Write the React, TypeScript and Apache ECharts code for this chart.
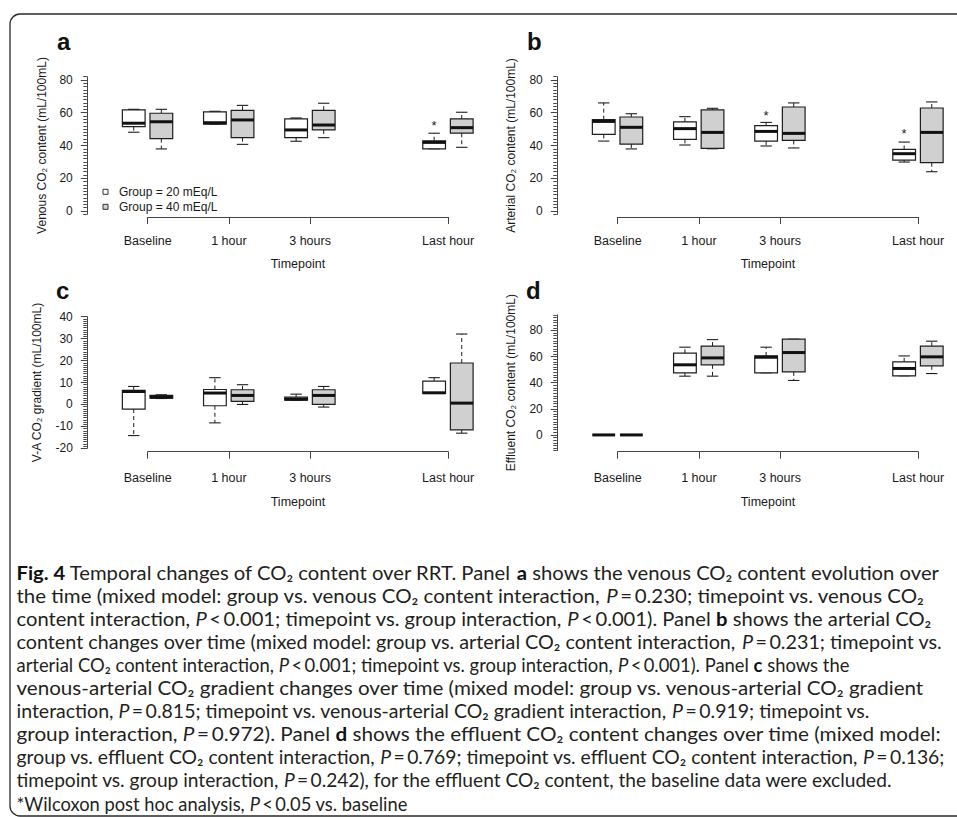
import React, { useEffect, useRef } from 'react';
import * as echarts from 'echarts';

// ---------------- data ----------------
const timepoints = ['Baseline', '1 hour', '3 hours', 'Last hour'];
const timepointPos = [1, 2, 3, 4.7];

const NAME20 = 'Group = 20 mEq/L';
const NAME40 = 'Group = 40 mEq/L';

// each row: [min, q1, median, q3, max] per timepoint
const venous20 = [[48.1, 51.5, 53.6, 61.7, 62.1], [53.1, 53.1, 53.9, 60.5, 60.9], [42.6, 44.8, 49.5, 56.2, 56.8], [38.0, 38.0, 41.9, 42.9, 47.5]];
const venous40 = [[37.9, 44.2, 54.5, 59.7, 62.1], [40.7, 44.8, 55.6, 61.5, 64.5], [44.8, 49.5, 52.5, 61.5, 65.8], [38.9, 47.5, 50.9, 56.2, 60.3]];
const arterial20 = [[42.7, 46.8, 54.7, 55.8, 66.0], [40.3, 43.7, 50.3, 54.4, 57.6], [39.7, 42.7, 48.6, 52.1, 54.1], [29.9, 31.1, 35.0, 37.6, 42.1]];
const arterial40 = [[37.9, 40.9, 51.1, 57.4, 59.4], [38.0, 38.2, 48.0, 61.7, 62.7], [38.5, 43.1, 47.4, 63.5, 66.0], [24.0, 29.5, 48.0, 62.9, 66.6]];
const gradient20 = [[-14.2, -2.1, 5.9, 6.4, 8.2], [-8.4, -0.6, 5.2, 6.8, 12.2], [2.0, 2.0, 2.4, 3.3, 4.7], [5.0, 5.0, 5.3, 10.6, 12.2]];
const gradient40 = [[2.7, 2.9, 3.3, 4.1, 4.4], [0.0, 1.4, 4.1, 6.7, 9.0], [-1.2, 0.0, 4.1, 6.7, 8.2], [-13.1, -11.6, 0.6, 18.9, 32.1]];
const effluent20 = [[0, 0, 0, 0, 0], [45.0, 47.6, 53.7, 62.6, 67.2], [47.6, 47.6, 59.5, 60.5, 67.2], [45.3, 45.3, 50.9, 56.0, 60.5]];
const effluent40 = [[0, 0, 0, 0, 0], [45.0, 53.7, 59.0, 68.0, 73.0], [41.7, 48.3, 63.1, 73.3, 73.3], [47.0, 52.9, 59.8, 68.0, 71.8]];

// significance stars (20 mEq/L group): [timepoint position, value]
const starsVenous = [[4.7, 54.0]];
const starsArterial = [[3, 60.4], [4.7, 49.2]];
const starsGradient: number[][] = [];
const starsEffluent: number[][] = [];

const ticksContent = [0, 20, 40, 60, 80];
const ticksGradient = [-20, -10, 0, 10, 20, 30, 40];

const T = '\u2009';
const captionLines = [
  '{b|Fig. 4} Temporal changes of CO₂ content over RRT. Panel {b|a} shows the venous CO₂ content evolution over',
  `the time (mixed model: group vs. venous CO₂ content interaction, {i|P}${T}=${T}0.230; timepoint vs. venous CO₂`,
  `content interaction, {i|P}${T}<${T}0.001; timepoint vs. group interaction, {i|P}${T}<${T}0.001). Panel {b|b} shows the arterial CO₂`,
  `content changes over time (mixed model: group vs. arterial CO₂ content interaction, {i|P}${T}=${T}0.231; timepoint vs.`,
  `arterial CO₂ content interaction, {i|P}${T}<${T}0.001; timepoint vs. group interaction, {i|P}${T}<${T}0.001). Panel {b|c} shows the`,
  'venous-arterial CO₂ gradient changes over time (mixed model: group vs. venous-arterial CO₂ gradient',
  `interaction, {i|P}${T}=${T}0.815; timepoint vs. venous-arterial CO₂ gradient interaction, {i|P}${T}=${T}0.919; timepoint vs.`,
  `group interaction, {i|P}${T}=${T}0.972). Panel {b|d} shows the effluent CO₂ content changes over time (mixed model:`,
  `group vs. effluent CO₂ content interaction, {i|P}${T}=${T}0.769; timepoint vs. effluent CO₂ content interaction, {i|P}${T}=${T}0.136;`,
  `timepoint vs. group interaction, {i|P}${T}=${T}0.242), for the effluent CO₂ content, the baseline data were excluded.`,
  `*Wilcoxon post hoc analysis, {i|P}${T}<${T}0.05 vs. baseline`,
];

// ---------------- styling / layout ----------------
const FONT = '"Liberation Sans", Arial, Helvetica, sans-serif';
const CAP_FONT = 'Lato, "Open Sans", sans-serif';
const INK = '#1a1a1a';
const AXIS = '#444';
const GREY = '#d0d0d0';
const BOX_W = 0.28;
const OFF20 = -0.172;
const OFF40 = 0.168;
const CAP_X = 16.5;
const CAP_SIZE = 19.5;
// right edge of each caption line in the reference (layout only)
const captionRight = [940, 925, 931, 942, 849, 925, 870, 941, 944, 893, 408];

function steps(a: number, b: number, s: number) {
  const out: number[] = [];
  for (let v = a; v <= b + 1e-9; v += s) out.push(Math.round(v * 1000) / 1000);
  return out;
}

const panels = [
  {
    letter: 'a', yName: 'Venous CO₂ content (mL/100mL)', g20: venous20, g40: venous40, stars: starsVenous,
    yMin: -2, yMax: 82, major: ticksContent, minorStep: 2,
    grid: { left: 86.8, top: 76.7, width: 401.9, height: 137.6 }, xMax: 5.2,
    axisGrid: { left: 147.7, top: 200, width: 300.4, height: 17 },
    xLabelMargin: 17.5, xNameGap: 40.5, yNameGap: 39, letterXY: [57, 41.7],
  },
  {
    letter: 'b', yName: 'Arterial CO₂ content (mL/100mL)', g20: arterial20, g40: arterial40, stars: starsArterial,
    yMin: -2, yMax: 82, major: ticksContent, minorStep: 2,
    grid: { left: 556.8, top: 76.7, width: 393.8, height: 137.6 }, xMax: 5.1,
    axisGrid: { left: 617.7, top: 200, width: 300.4, height: 17 },
    xLabelMargin: 17.5, xNameGap: 40.5, yNameGap: 40, letterXY: [527, 41.7],
  },
  {
    letter: 'c', yName: 'V-A CO₂ gradient (mL/100mL)', g20: gradient20, g40: gradient40, stars: starsGradient,
    yMin: -20, yMax: 40, major: ticksGradient, minorStep: 1,
    grid: { left: 86.8, top: 316.7, width: 401.9, height: 131.6 }, xMax: 5.2,
    axisGrid: { left: 147.7, top: 430, width: 300.4, height: 21.7 },
    xLabelMargin: 20, xNameGap: 43.5, yNameGap: 44, letterXY: [56, 290.7],
  },
  {
    letter: 'd', yName: 'Effluent CO₂ content (mL/100mL)', g20: effluent20, g40: effluent40, stars: starsEffluent,
    yMin: -12, yMax: 92, major: ticksContent, minorStep: 2,
    grid: { left: 556.8, top: 314.8, width: 393.8, height: 135.8 }, xMax: 5.1,
    axisGrid: { left: 617.7, top: 430, width: 300.4, height: 21.7 },
    xLabelMargin: 20, xNameGap: 43.5, yNameGap: 40, letterXY: [526, 290.7],
  },
];

function boxRender(offset: number, fill: string) {
  return (params: any, api: any) => {
    const x = api.value(0) + offset;
    const mn = api.value(1), q1 = api.value(2), md = api.value(3), q3 = api.value(4), mx = api.value(5);
    const halfW = api.size([BOX_W, 0])[0] / 2;
    const capW = halfW / 2;
    const pMin = api.coord([x, mn]);
    const cx = pMin[0];
    const yMin = pMin[1];
    const yQ1 = api.coord([x, q1])[1];
    const yMed = api.coord([x, md])[1];
    const yQ3 = api.coord([x, q3])[1];
    const yMax = api.coord([x, mx])[1];
    const stroke = '#1e1e1e';
    return {
      type: 'group',
      children: [
        { type: 'line', shape: { x1: cx, y1: yQ3, x2: cx, y2: yMax }, style: { stroke, lineWidth: 1, lineDash: [4, 3] } },
        { type: 'line', shape: { x1: cx, y1: yQ1, x2: cx, y2: yMin }, style: { stroke, lineWidth: 1, lineDash: [4, 3] } },
        { type: 'line', shape: { x1: cx - capW, y1: yMax, x2: cx + capW, y2: yMax }, style: { stroke, lineWidth: 1.1 } },
        { type: 'line', shape: { x1: cx - capW, y1: yMin, x2: cx + capW, y2: yMin }, style: { stroke, lineWidth: 1.1 } },
        { type: 'rect', shape: { x: cx - halfW, y: yQ3, width: 2 * halfW, height: yQ1 - yQ3 }, style: { fill, stroke, lineWidth: 1.2 } },
        { type: 'line', shape: { x1: cx - halfW, y1: yMed, x2: cx + halfW, y2: yMed }, style: { stroke: '#111', lineWidth: 3 } },
      ],
    };
  };
}

function starRender(offset: number) {
  return (params: any, api: any) => {
    const p = api.coord([api.value(0) + offset, api.value(1)]);
    return {
      type: 'text', x: p[0], y: p[1] + 3,
      style: {
        text: '*', fontSize: 13, fontFamily: FONT, fill: INK,
        align: 'center', verticalAlign: 'middle', textAlign: 'center', textVerticalAlign: 'middle',
      },
    };
  };
}

function captionStyle(line: string) {
  return {
    text: line, fontSize: CAP_SIZE, fontFamily: CAP_FONT, fill: '#231f20',
    verticalAlign: 'middle', textVerticalAlign: 'middle',
    rich: {
      b: { fontSize: CAP_SIZE, fontFamily: CAP_FONT, fontWeight: 'bold', fill: '#111' },
      i: { fontSize: CAP_SIZE, fontFamily: CAP_FONT, fontStyle: 'italic', fill: '#231f20' },
    },
  };
}

function measure(line: string) {
  try {
    const t = new (echarts.graphic as any).Text({ style: captionStyle(line) });
    const w = t.getBoundingRect().width;
    return w > 0 ? w : 0;
  } catch (e) {
    return 0;
  }
}

function buildOption() {
  const grid: any[] = [];
  const xAxis: any[] = [];
  const yAxis: any[] = [];
  const series: any[] = [];
  const graphic: any[] = [];
  const n = panels.length;

  panels.forEach((p, i) => {
    grid[i] = { ...p.grid, containLabel: false };
    grid[n + i] = { ...p.axisGrid, containLabel: false };

    xAxis[i] = { gridIndex: i, type: 'value', min: 0.25, max: p.xMax, show: false };
    xAxis[n + i] = {
      gridIndex: n + i, type: 'value', min: timepointPos[0], max: timepointPos[timepointPos.length - 1],
      position: 'bottom',
      axisLine: { show: true, lineStyle: { color: AXIS, width: 1 } },
      axisTick: { show: true, customValues: timepointPos, length: 7, lineStyle: { color: AXIS, width: 1 } },
      axisLabel: {
        customValues: timepointPos, margin: p.xLabelMargin, fontSize: 12.5, fontFamily: FONT, color: INK,
        formatter: (v: number) => {
          const k = timepointPos.findIndex((t) => Math.abs(t - v) < 1e-6);
          return k >= 0 ? timepoints[k] : '';
        },
      },
      splitLine: { show: false },
      name: 'Timepoint', nameLocation: 'middle', nameGap: p.xNameGap,
      nameTextStyle: { fontSize: 12.5, fontFamily: FONT, color: INK },
    };

    yAxis[i] = {
      gridIndex: i, type: 'value', min: p.yMin, max: p.yMax, position: 'left',
      axisLine: { show: true, lineStyle: { color: AXIS, width: 1 } },
      axisTick: { show: true, customValues: p.major, length: 6, lineStyle: { color: AXIS, width: 1 } },
      axisLabel: { customValues: p.major, margin: 14, fontSize: 12, fontFamily: FONT, color: INK },
      splitLine: { show: false },
      name: p.yName, nameLocation: 'middle', nameRotate: 90, nameGap: p.yNameGap,
      nameTextStyle: { fontSize: 12, fontFamily: FONT, color: INK },
    };
    yAxis[n + i] = {
      gridIndex: i, type: 'value', min: p.yMin, max: p.yMax, position: 'left',
      axisLine: { show: false },
      axisTick: { show: true, customValues: steps(p.yMin, p.yMax, p.minorStep), length: 3.5, lineStyle: { color: AXIS, width: 1 } },
      axisLabel: { show: false },
      splitLine: { show: false },
    };
    yAxis[2 * n + i] = { gridIndex: n + i, type: 'value', show: false, min: 0, max: 1 };

    const rows20 = timepointPos.map((t, k) => [t, ...p.g20[k]]);
    const rows40 = timepointPos.map((t, k) => [t, ...p.g40[k]]);
    series.push({
      type: 'custom', name: NAME20, xAxisIndex: i, yAxisIndex: i, data: rows20,
      itemStyle: { color: '#ffffff', borderColor: '#333' },
      renderItem: boxRender(OFF20, '#ffffff'), silent: true,
    });
    series.push({
      type: 'custom', name: NAME40, xAxisIndex: i, yAxisIndex: i, data: rows40,
      itemStyle: { color: GREY, borderColor: '#333' },
      renderItem: boxRender(OFF40, GREY), silent: true,
    });
    if (p.stars.length) {
      series.push({
        type: 'custom', name: 'stars-' + p.letter, xAxisIndex: i, yAxisIndex: i, data: p.stars,
        renderItem: starRender(OFF20), silent: true,
      });
    }

    graphic.push({
      type: 'text', x: p.letterXY[0], y: p.letterXY[1], silent: true,
      style: { text: p.letter, fontSize: 24, fontWeight: 'bold', fontFamily: FONT, fill: '#111', verticalAlign: 'middle', textVerticalAlign: 'middle' },
    });
  });

  graphic.push({
    type: 'rect', silent: true,
    shape: { x: 10, y: 14, width: 1000, height: 802, r: 10 },
    style: { fill: 'none', stroke: '#2a2a2a', lineWidth: 1.3 },
  });

  captionLines.forEach((line, k) => {
    const w = measure(line);
    let s = 1;
    if (w > 0) {
      s = (captionRight[k] - CAP_X) / w;
      s = Math.max(0.88, Math.min(1.1, s));
    }
    graphic.push({
      type: 'text', x: CAP_X, y: 572 + k * 23.1, scaleX: s, scaleY: 1, originX: 0, originY: 0, silent: true,
      style: captionStyle(line),
    });
  });

  return {
    animation: false,
    backgroundColor: '#ffffff',
    grid, xAxis, yAxis, series, graphic,
    legend: {
      orient: 'vertical', left: 97.5, top: 179.8, itemWidth: 5, itemHeight: 5, itemGap: 1,
      icon: 'rect', selectedMode: false,
      textStyle: { fontSize: 12, fontFamily: FONT, color: INK, lineHeight: 14, padding: [0, 0, 0, 6] },
      data: [
        { name: NAME20, itemStyle: { color: '#ffffff', borderColor: '#333', borderWidth: 1 } },
        { name: NAME40, itemStyle: { color: GREY, borderColor: '#333', borderWidth: 1 } },
      ],
    },
  };
}

export default function App() {
  const ref = useRef<HTMLDivElement>(null);
  useEffect(() => {
    if (!ref.current) return;
    const chart = echarts.init(ref.current, null, { renderer: 'svg' });
    chart.setOption(buildOption() as any);
    return () => chart.dispose();
  }, []);
  return (
    <div
      ref={ref}
      style={{ position: 'absolute', left: 0, top: 0, width: 957, height: 817, background: '#ffffff' }}
    />
  );
}
